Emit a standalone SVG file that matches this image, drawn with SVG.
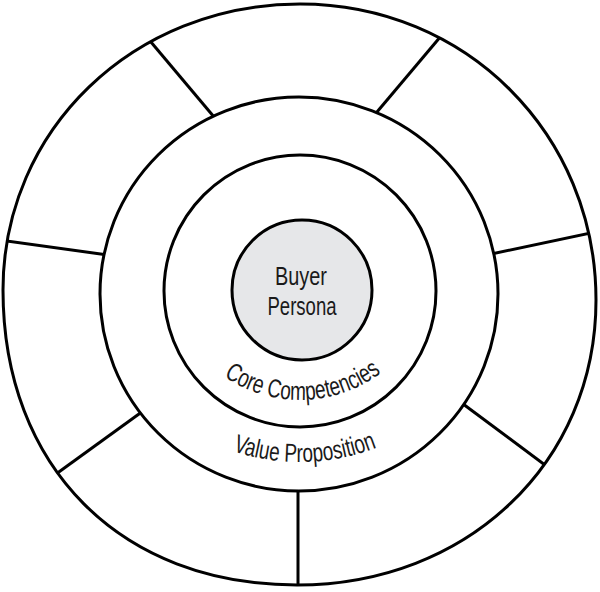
<svg xmlns="http://www.w3.org/2000/svg" width="600" height="592" viewBox="0 0 600 592">
<style>
.ring{fill:#fff;stroke:#000;stroke-width:3}
.div{fill:none;stroke:#000;stroke-width:3;stroke-linecap:butt}
.lbl{font-family:"Liberation Sans",Arial,sans-serif;font-size:26px;fill:#1a1a1a}
</style>
<defs>
<path id="outerShape" d="M300,4 C465.8,4 596,134.2 596,300 C596,462.5 467.4,585 297,585 C120.6,585 3,467 3,290 C3,129.8 133.7,4 300,4 Z"/>
<clipPath id="outerClip"><use href="#outerShape"/></clipPath>
<path id="corePath" d="M165,265 A135,135 0 0 0 435,265"/>
<path id="valuePath" d="M88,250 A212,212 0 0 0 512,250"/>
</defs>
<rect width="600" height="592" fill="#fff"/>
<g id="outer-ring">
<use href="#outerShape" class="ring"/>
</g>
<g id="connectors" clip-path="url(#outerClip)">
<line class="div" x1="140" y1="29" x2="225" y2="130"/>
<line class="div" x1="452" y1="23" x2="366" y2="125"/>
<line class="div" x1="0" y1="240" x2="115" y2="256"/>
<line class="div" x1="600" y1="231" x2="482" y2="256"/>
<line class="div" x1="45" y1="482" x2="150" y2="406"/>
<line class="div" x1="557" y1="474" x2="455" y2="398"/>
<line class="div" x1="298" y1="600" x2="298" y2="480"/>
</g>
<g id="value-proposition">
<ellipse class="ring" cx="299" cy="294" rx="199" ry="197"/>
<text class="lbl" lengthAdjust="spacingAndGlyphs" textLength="147"><textPath href="#valuePath" startOffset="338" text-anchor="middle">Value Proposition</textPath></text>
</g>
<g id="core-competencies">
<circle class="ring" cx="300" cy="291" r="136"/>
<text class="lbl" lengthAdjust="spacingAndGlyphs" textLength="168"><textPath href="#corePath" startOffset="215" text-anchor="middle">Core Competencies</textPath></text>
</g>
<g id="buyer-persona">
<circle cx="302" cy="290" r="70" fill="#e6e7e9" stroke="#000" stroke-width="3"/>
<text class="lbl" x="301" y="285" text-anchor="middle" textLength="52" lengthAdjust="spacingAndGlyphs">Buyer</text>
<text class="lbl" x="302" y="315" text-anchor="middle" textLength="69" lengthAdjust="spacingAndGlyphs">Persona</text>
</g>
</svg>
